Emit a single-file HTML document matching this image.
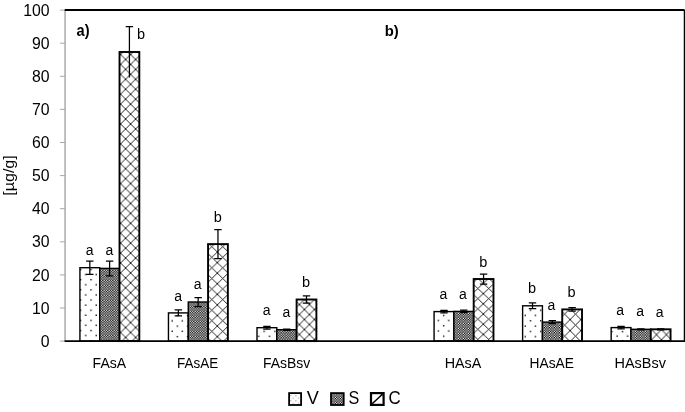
<!DOCTYPE html>
<html lang="en"><head><meta charset="utf-8"><title>Chart</title>
<style>html,body{margin:0;padding:0;background:#fff}svg{display:block}text{font-family:"Liberation Sans",sans-serif;fill:#000}</style></head><body>
<svg width="685" height="412" viewBox="0 0 685 412">
<rect width="685" height="412" fill="#fff"/>
<defs>
<pattern id="p00" patternUnits="userSpaceOnUse" x="90.33" y="279.02" width="10.5" height="10.16"><rect width="10.5" height="10.16" fill="#fff"/><rect x="0" y="0" width="1.35" height="1.35" fill="#000"/><rect x="5.250" y="5.080" width="1.35" height="1.35" fill="#000"/></pattern>
<pattern id="p01" patternUnits="userSpaceOnUse" x="99.72" y="268.40" width="2.5" height="2.5"><rect width="2.5" height="2.5" fill="#000"/><rect x="0.05" y="0.05" width="1.2" height="1.2" fill="#fff"/><rect x="1.3" y="1.3" width="1.2" height="1.2" fill="#fff"/></pattern>
<pattern id="p02" patternUnits="userSpaceOnUse" x="130.60" y="64.40" width="10.0" height="9.93"><rect width="10.0" height="9.93" fill="#fff"/><path d="M0 0L10.0 9.93M0 9.93L10.0 0" stroke="#000" stroke-width="0.85" fill="none"/></pattern>
<pattern id="p10" patternUnits="userSpaceOnUse" x="176.62" y="325.43" width="10.2" height="10.5"><rect width="10.2" height="10.5" fill="#fff"/><rect x="0" y="0" width="1.35" height="1.35" fill="#000"/><rect x="5.100" y="5.250" width="1.35" height="1.35" fill="#000"/></pattern>
<pattern id="p11" patternUnits="userSpaceOnUse" x="188.26" y="302.00" width="2.5" height="2.5"><rect width="2.5" height="2.5" fill="#000"/><rect x="0.05" y="0.05" width="1.2" height="1.2" fill="#fff"/><rect x="1.3" y="1.3" width="1.2" height="1.2" fill="#fff"/></pattern>
<pattern id="p12" patternUnits="userSpaceOnUse" x="217.30" y="252.00" width="10.9" height="10.58"><rect width="10.9" height="10.58" fill="#fff"/><path d="M0 0L10.9 10.58M0 10.58L10.9 0" stroke="#000" stroke-width="0.85" fill="none"/></pattern>
<pattern id="p20" patternUnits="userSpaceOnUse" x="263.43" y="330.62" width="10.9" height="10.2"><rect width="10.9" height="10.2" fill="#fff"/><rect x="0" y="0" width="1.35" height="1.35" fill="#000"/><rect x="5.450" y="5.100" width="1.35" height="1.35" fill="#000"/></pattern>
<pattern id="p21" patternUnits="userSpaceOnUse" x="276.80" y="329.70" width="2.5" height="2.5"><rect width="2.5" height="2.5" fill="#000"/><rect x="0.05" y="0.05" width="1.2" height="1.2" fill="#fff"/><rect x="1.3" y="1.3" width="1.2" height="1.2" fill="#fff"/></pattern>
<pattern id="p22" patternUnits="userSpaceOnUse" x="304.40" y="309.50" width="10.0" height="10.0"><rect width="10.0" height="10.0" fill="#fff"/><path d="M0 0L10.0 10.0M0 10.0L10.0 0" stroke="#000" stroke-width="0.85" fill="none"/></pattern>
<pattern id="p40" patternUnits="userSpaceOnUse" x="442.93" y="325.12" width="10.3" height="10.4"><rect width="10.3" height="10.4" fill="#fff"/><rect x="0" y="0" width="1.35" height="1.35" fill="#000"/><rect x="5.150" y="5.200" width="1.35" height="1.35" fill="#000"/></pattern>
<pattern id="p41" patternUnits="userSpaceOnUse" x="453.88" y="311.40" width="2.5" height="2.5"><rect width="2.5" height="2.5" fill="#000"/><rect x="0.05" y="0.05" width="1.2" height="1.2" fill="#fff"/><rect x="1.3" y="1.3" width="1.2" height="1.2" fill="#fff"/></pattern>
<pattern id="p42" patternUnits="userSpaceOnUse" x="483.30" y="283.40" width="10.9" height="10.2"><rect width="10.9" height="10.2" fill="#fff"/><path d="M0 0L10.9 10.2M0 10.2L10.9 0" stroke="#000" stroke-width="0.85" fill="none"/></pattern>
<pattern id="p50" patternUnits="userSpaceOnUse" x="529.73" y="320.12" width="10.2" height="10.6"><rect width="10.2" height="10.6" fill="#fff"/><rect x="0" y="0" width="1.35" height="1.35" fill="#000"/><rect x="5.100" y="5.300" width="1.35" height="1.35" fill="#000"/></pattern>
<pattern id="p51" patternUnits="userSpaceOnUse" x="542.42" y="322.10" width="2.5" height="2.5"><rect width="2.5" height="2.5" fill="#000"/><rect x="0.05" y="0.05" width="1.2" height="1.2" fill="#fff"/><rect x="1.3" y="1.3" width="1.2" height="1.2" fill="#fff"/></pattern>
<pattern id="p52" patternUnits="userSpaceOnUse" x="570.10" y="319.60" width="10.8" height="11.0"><rect width="10.8" height="11.0" fill="#fff"/><path d="M0 0L10.8 11.0M0 11.0L10.8 0" stroke="#000" stroke-width="0.85" fill="none"/></pattern>
<pattern id="p60" patternUnits="userSpaceOnUse" x="621.73" y="330.93" width="10.5" height="9.0"><rect width="10.5" height="9.0" fill="#fff"/><rect x="0" y="0" width="1.35" height="1.35" fill="#000"/><rect x="5.250" y="4.500" width="1.35" height="1.35" fill="#000"/></pattern>
<pattern id="p61" patternUnits="userSpaceOnUse" x="630.96" y="329.30" width="2.5" height="2.5"><rect width="2.5" height="2.5" fill="#000"/><rect x="0.05" y="0.05" width="1.2" height="1.2" fill="#fff"/><rect x="1.3" y="1.3" width="1.2" height="1.2" fill="#fff"/></pattern>
<pattern id="p62" patternUnits="userSpaceOnUse" x="661.45" y="329.50" width="9.9" height="10.4"><rect width="9.9" height="10.4" fill="#fff"/><path d="M0 0L9.9 10.4M0 10.4L9.9 0" stroke="#000" stroke-width="0.85" fill="none"/></pattern>
<pattern id="lv" patternUnits="userSpaceOnUse" x="292.52" y="397.52" width="5.2" height="5.2"><rect width="5.2" height="5.2" fill="#fff"/><rect x="0" y="0" width="1.35" height="1.35" fill="#bbb"/><rect x="2.600" y="2.600" width="1.35" height="1.35" fill="#bbb"/></pattern>
<pattern id="ls" patternUnits="userSpaceOnUse" x="331.00" y="393.00" width="2.5" height="2.5"><rect width="2.5" height="2.5" fill="#000"/><rect x="0.05" y="0.05" width="1.2" height="1.2" fill="#fff"/><rect x="1.3" y="1.3" width="1.2" height="1.2" fill="#fff"/></pattern>
</defs>
<g stroke="#a8a8a8" stroke-width="1.0" fill="none">
<path d="M65.05 10.0V341.1" stroke-width="1.45"/>
<path d="M59.90 341.10H65.2"/>
<path d="M59.90 308.00H65.2"/>
<path d="M59.90 274.90H65.2"/>
<path d="M59.90 241.80H65.2"/>
<path d="M59.90 208.70H65.2"/>
<path d="M59.90 175.60H65.2"/>
<path d="M59.90 142.50H65.2"/>
<path d="M59.90 109.40H65.2"/>
<path d="M59.90 76.30H65.2"/>
<path d="M59.90 43.20H65.2"/>
<path d="M59.90 10.10H65.2"/>
</g>
<text x="49.6" y="346.70" font-size="15.8" text-anchor="end">0</text>
<text x="49.6" y="313.60" font-size="15.8" text-anchor="end">10</text>
<text x="49.6" y="280.50" font-size="15.8" text-anchor="end">20</text>
<text x="49.6" y="247.40" font-size="15.8" text-anchor="end">30</text>
<text x="49.6" y="214.30" font-size="15.8" text-anchor="end">40</text>
<text x="49.6" y="181.20" font-size="15.8" text-anchor="end">50</text>
<text x="49.6" y="148.10" font-size="15.8" text-anchor="end">60</text>
<text x="49.6" y="115.00" font-size="15.8" text-anchor="end">70</text>
<text x="49.6" y="81.90" font-size="15.8" text-anchor="end">80</text>
<text x="49.6" y="48.80" font-size="15.8" text-anchor="end">90</text>
<text x="49.6" y="15.70" font-size="15.8" text-anchor="end">100</text>
<text transform="translate(13.5 175.5) rotate(-90)" font-size="15" text-anchor="middle" textLength="40.5" lengthAdjust="spacingAndGlyphs">[µg/g]</text>
<rect x="79.92" y="267.70" width="19.8" height="73.40" fill="url(#p00)" stroke="#000" stroke-width="1.4"/>
<rect x="99.72" y="268.40" width="19.8" height="72.70" fill="url(#p01)" stroke="#000" stroke-width="1.4"/>
<rect x="119.52" y="52.00" width="19.8" height="289.10" fill="url(#p02)" stroke="#000" stroke-width="1.9"/>
<path d="M89.82 261.00V274.40M86.12 261.00h7.4M86.12 274.40h7.4" stroke="#000" stroke-width="1.25" fill="none"/>
<path d="M109.62 261.00V275.80M105.92 261.00h7.4M105.92 275.80h7.4" stroke="#000" stroke-width="1.25" fill="none"/>
<path d="M129.42 26.60V77.40M125.72 26.60h7.4" stroke="#000" stroke-width="1.25" fill="none"/>
<text x="89.6" y="254.6" font-size="14.0" text-anchor="middle">a</text>
<text x="109.3" y="255.4" font-size="14.0" text-anchor="middle">a</text>
<text x="141.0" y="39.4" font-size="14.5" text-anchor="middle">b</text>
<rect x="168.46" y="312.90" width="19.8" height="28.20" fill="url(#p10)" stroke="#000" stroke-width="1.4"/>
<rect x="188.26" y="302.00" width="19.8" height="39.10" fill="url(#p11)" stroke="#000" stroke-width="1.4"/>
<rect x="208.06" y="244.10" width="19.8" height="97.00" fill="url(#p12)" stroke="#000" stroke-width="1.9"/>
<path d="M178.36 309.90V315.90M174.66 309.90h7.4M174.66 315.90h7.4" stroke="#000" stroke-width="1.25" fill="none"/>
<path d="M198.16 297.50V306.50M194.46 297.50h7.4M194.46 306.50h7.4" stroke="#000" stroke-width="1.25" fill="none"/>
<path d="M217.96 229.60V258.60M214.26 229.60h7.4M214.26 258.60h7.4" stroke="#000" stroke-width="1.25" fill="none"/>
<text x="178.1" y="300.5" font-size="14.0" text-anchor="middle">a</text>
<text x="197.7" y="288.9" font-size="14.0" text-anchor="middle">a</text>
<text x="217.9" y="221.5" font-size="14.5" text-anchor="middle">b</text>
<rect x="257.00" y="327.70" width="19.8" height="13.40" fill="url(#p20)" stroke="#000" stroke-width="1.4"/>
<rect x="276.80" y="329.70" width="19.8" height="11.40" fill="url(#p21)" stroke="#000" stroke-width="1.4"/>
<rect x="296.60" y="299.50" width="19.8" height="41.60" fill="url(#p22)" stroke="#000" stroke-width="1.9"/>
<path d="M266.90 326.30V329.10M263.20 326.30h7.4M263.20 329.10h7.4" stroke="#000" stroke-width="1.25" fill="none"/>
<path d="M286.70 329.10V330.30M283.00 329.10h7.4M283.00 330.30h7.4" stroke="#000" stroke-width="1.25" fill="none"/>
<path d="M306.50 295.80V303.20M302.80 295.80h7.4M302.80 303.20h7.4" stroke="#000" stroke-width="1.25" fill="none"/>
<text x="266.7" y="314.5" font-size="14.0" text-anchor="middle">a</text>
<text x="286.3" y="317.3" font-size="14.0" text-anchor="middle">a</text>
<text x="306.1" y="286.9" font-size="14.5" text-anchor="middle">b</text>
<rect x="434.08" y="311.60" width="19.8" height="29.50" fill="url(#p40)" stroke="#000" stroke-width="1.4"/>
<rect x="453.88" y="311.40" width="19.8" height="29.70" fill="url(#p41)" stroke="#000" stroke-width="1.4"/>
<rect x="473.68" y="279.00" width="19.8" height="62.10" fill="url(#p42)" stroke="#000" stroke-width="1.9"/>
<path d="M443.98 310.30V312.90M440.28 310.30h7.4M440.28 312.90h7.4" stroke="#000" stroke-width="1.25" fill="none"/>
<path d="M463.78 310.10V312.70M460.08 310.10h7.4M460.08 312.70h7.4" stroke="#000" stroke-width="1.25" fill="none"/>
<path d="M483.58 274.00V284.00M479.88 274.00h7.4M479.88 284.00h7.4" stroke="#000" stroke-width="1.25" fill="none"/>
<text x="443.5" y="298.5" font-size="14.0" text-anchor="middle">a</text>
<text x="463.0" y="298.5" font-size="14.0" text-anchor="middle">a</text>
<text x="483.4" y="266.6" font-size="14.5" text-anchor="middle">b</text>
<rect x="522.62" y="305.80" width="19.8" height="35.30" fill="url(#p50)" stroke="#000" stroke-width="1.4"/>
<rect x="542.42" y="322.10" width="19.8" height="19.00" fill="url(#p51)" stroke="#000" stroke-width="1.4"/>
<rect x="562.22" y="309.40" width="19.8" height="31.70" fill="url(#p52)" stroke="#000" stroke-width="1.9"/>
<path d="M532.52 302.90V308.70M528.82 302.90h7.4M528.82 308.70h7.4" stroke="#000" stroke-width="1.25" fill="none"/>
<path d="M552.32 320.60V323.60M548.62 320.60h7.4M548.62 323.60h7.4" stroke="#000" stroke-width="1.25" fill="none"/>
<path d="M572.12 307.60V311.20M568.42 307.60h7.4M568.42 311.20h7.4" stroke="#000" stroke-width="1.25" fill="none"/>
<text x="532.0" y="292.9" font-size="14.5" text-anchor="middle">b</text>
<text x="551.4" y="309.7" font-size="14.0" text-anchor="middle">a</text>
<text x="571.5" y="297.0" font-size="14.5" text-anchor="middle">b</text>
<rect x="611.16" y="327.60" width="19.8" height="13.50" fill="url(#p60)" stroke="#000" stroke-width="1.4"/>
<rect x="630.96" y="329.30" width="19.8" height="11.80" fill="url(#p61)" stroke="#000" stroke-width="1.4"/>
<rect x="650.76" y="329.30" width="19.8" height="11.80" fill="url(#p62)" stroke="#000" stroke-width="1.9"/>
<path d="M621.06 326.40V328.80M617.36 326.40h7.4M617.36 328.80h7.4" stroke="#000" stroke-width="1.25" fill="none"/>
<path d="M640.86 328.80V329.80M637.16 328.80h7.4M637.16 329.80h7.4" stroke="#000" stroke-width="1.25" fill="none"/>
<path d="M660.66 328.80V329.80M656.96 328.80h7.4M656.96 329.80h7.4" stroke="#000" stroke-width="1.25" fill="none"/>
<text x="620.2" y="315.2" font-size="14.0" text-anchor="middle">a</text>
<text x="640.1" y="316.2" font-size="14.0" text-anchor="middle">a</text>
<text x="659.6" y="316.7" font-size="14.0" text-anchor="middle">a</text>
<text x="92.6" y="367.7" font-size="14.7" textLength="33.5" lengthAdjust="spacingAndGlyphs">FAsA</text>
<text x="177.0" y="367.7" font-size="14.7" textLength="41.2" lengthAdjust="spacingAndGlyphs">FAsAE</text>
<text x="262.9" y="367.7" font-size="14.7" textLength="47.3" lengthAdjust="spacingAndGlyphs">FAsBsv</text>
<text x="444.7" y="367.7" font-size="14.7" textLength="36.6" lengthAdjust="spacingAndGlyphs">HAsA</text>
<text x="529.6" y="367.7" font-size="14.7" textLength="44.4" lengthAdjust="spacingAndGlyphs">HAsAE</text>
<text x="614.5" y="367.7" font-size="14.7" textLength="51.4" lengthAdjust="spacingAndGlyphs">HAsBsv</text>
<path d="M64.7 10.0H684.6" stroke="#000" stroke-width="2" fill="none"/>
<path d="M684.6 10.0V341.1" stroke="#000" stroke-width="1.7" fill="none"/>
<path d="M64.60000000000001 341.1H685" stroke="#000" stroke-width="1.8" fill="none"/>
<text x="76.5" y="35.6" font-size="15.6" font-weight="bold" textLength="13" lengthAdjust="spacingAndGlyphs">a)</text>
<text x="384.8" y="35.5" font-size="15" font-weight="bold" textLength="14" lengthAdjust="spacingAndGlyphs">b)</text>
<rect x="289.1" y="393.1" width="12" height="11.9" fill="url(#lv)" stroke="#000" stroke-width="1.8"/>
<rect x="331" y="393.1" width="12.7" height="11.9" fill="url(#ls)" stroke="#000" stroke-width="1.8"/>
<rect x="371" y="393.1" width="12.6" height="11.8" fill="#fff" stroke="#000" stroke-width="2.2"/>
<path d="M372.2 403.8L382.4 394.2" stroke="#000" stroke-width="1.5" fill="none"/>
<path d="M380.5 394.2H382.5V396.4Z" fill="#000"/>
<text x="306.7" y="404.4" font-size="18.2" textLength="12.1" lengthAdjust="spacingAndGlyphs">V</text>
<text x="348.4" y="404.4" font-size="18.2" textLength="10.8" lengthAdjust="spacingAndGlyphs">S</text>
<text x="388.4" y="404.4" font-size="18.2" textLength="12.2" lengthAdjust="spacingAndGlyphs">C</text>
</svg></body></html>
